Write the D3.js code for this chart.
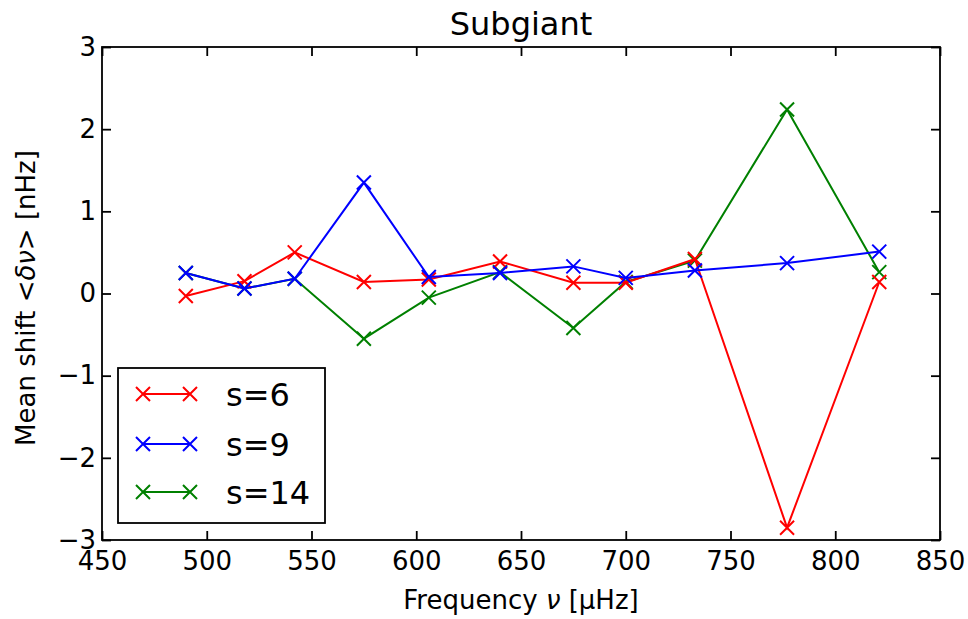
<!DOCTYPE html>
<html>
<head>
<meta charset="utf-8">
<script src="https://cdn.jsdelivr.net/npm/d3@7"></script>
<style>
  body { margin: 0; background: white; }
  svg { display: block; font-family: "DejaVu Sans", sans-serif; }
</style>
</head>
<body>
<svg id="main-svg" width="968" height="619"></svg>
<script>
// data
const freq = [490, 518, 542, 575, 606, 640, 675, 700, 733, 777, 821];
const s6  = [-0.03, 0.15, 0.50, 0.14, 0.17, 0.39, 0.13, 0.13, 0.42, -2.85, 0.14];
const s9  = [0.25, 0.06, 0.18, 1.35, 0.20, 0.25, 0.33, 0.19, 0.28, 0.37, 0.51];
const s14 = [0.25, 0.06, 0.18, -0.55, -0.05, 0.26, -0.42, 0.14, 0.40, 2.24, 0.26];
const seriesNames = ["s=6", "s=9", "s=14"];
const seriesColors = ["#ff0000", "#0000ff", "#008000"];
const xTicks = [450, 500, 550, 600, 650, 700, 750, 800, 850];
const yTicks = [-3, -2, -1, 0, 1, 2, 3];

const svg = d3.select("#main-svg");
const plot = { left: 102, right: 940, top: 47, bottom: 540 };
const tickLen = 9;

var xScale = d3.scaleLinear().domain([450, 850]).range([plot.left, plot.right]);
var yScale = d3.scaleLinear().domain([-3, 3]).range([plot.bottom, plot.top]);

const fmt = d => (d < 0 ? "\u2212" + Math.abs(d) : String(d));

// bottom axis with labels
var gx = svg.append("g")
    .attr("transform", `translate(0,${plot.bottom})`)
    .call(d3.axisBottom(xScale).tickValues(xTicks).tickSize(-tickLen).tickPadding(12).tickFormat(d => d));
// top axis, ticks only
var gxt = svg.append("g")
    .attr("transform", `translate(0,${plot.top})`)
    .call(d3.axisTop(xScale).tickValues(xTicks).tickSize(-tickLen).tickFormat(""));
// left axis with labels
var gy = svg.append("g")
    .attr("transform", `translate(${plot.left},0)`)
    .call(d3.axisLeft(yScale).tickValues(yTicks).tickSize(-tickLen).tickPadding(6).tickFormat(fmt));
// right axis, ticks only
var gyr = svg.append("g")
    .attr("transform", `translate(${plot.right},0)`)
    .call(d3.axisRight(yScale).tickValues(yTicks).tickSize(-tickLen).tickFormat(""));

[gx, gxt, gy, gyr].forEach(g => {
    g.select(".domain").remove();
    g.selectAll(".tick line").attr("stroke", "#000").attr("stroke-width", 1.8);
    g.selectAll(".tick text")
        .attr("fill", "#000")
        .attr("font-size", "26px")
        .attr("font-family", "DejaVu Sans, sans-serif");
});

// series lines + x markers (draw order: s=14, s=6, s=9)
var series = [
    { name: seriesNames[0], values: s6, color: seriesColors[0] },
    { name: seriesNames[1], values: s9, color: seriesColors[1] },
    { name: seriesNames[2], values: s14, color: seriesColors[2] }
];
const mk = 7;
const xMark = `M${-mk},${-mk}L${mk},${mk}M${-mk},${mk}L${mk},${-mk}`;

var line = d3.line()
    .x(d => xScale(d[0]))
    .y(d => yScale(d[1]));

[series[2], series[0], series[1]].forEach(s => {
    var pts = freq.map((f, i) => [f, s.values[i]]);
    var g = svg.append("g");
    g.append("path")
        .datum(pts)
        .attr("fill", "none")
        .attr("stroke", s.color)
        .attr("stroke-width", 2)
        .attr("d", line);
    g.selectAll(".mark")
        .data(pts)
        .enter()
        .append("path")
        .attr("class", "mark")
        .attr("transform", d => `translate(${xScale(d[0])},${yScale(d[1])})`)
        .attr("d", xMark)
        .attr("fill", "none")
        .attr("stroke", s.color)
        .attr("stroke-width", 2);
});

// frame
svg.append("rect")
    .attr("x", plot.left)
    .attr("y", plot.top)
    .attr("width", plot.right - plot.left)
    .attr("height", plot.bottom - plot.top)
    .attr("fill", "none")
    .attr("stroke", "#000")
    .attr("stroke-width", 1.8);

// title
svg.append("text")
    .attr("x", (plot.left + plot.right) / 2)
    .attr("y", 35)
    .attr("text-anchor", "middle")
    .attr("font-size", "32px")
    .text("Subgiant");

// x label
var xl = svg.append("text")
    .attr("x", (plot.left + plot.right) / 2)
    .attr("y", 609)
    .attr("text-anchor", "middle")
    .attr("font-size", "26px");
xl.append("tspan").text("Frequency ");
xl.append("tspan").attr("font-style", "italic").text("\u03bd");
xl.append("tspan").text(" [\u03bcHz]");

// y label
var yl = svg.append("text")
    .attr("transform", "translate(35,298) rotate(-90)")
    .attr("text-anchor", "middle")
    .attr("font-size", "26px");
yl.append("tspan").text("Mean shift <");
yl.append("tspan").attr("font-style", "italic").text("\u03b4\u03bd");
yl.append("tspan").text("> [nHz]");

// legend
var legend = svg.append("g");
legend.append("rect")
    .attr("x", 118)
    .attr("y", 368)
    .attr("width", 207)
    .attr("height", 155)
    .attr("fill", "white")
    .attr("stroke", "#000")
    .attr("stroke-width", 1.8);

const rowY = [394, 444, 492];
series.forEach((s, i) => {
    var row = legend.append("g").attr("transform", `translate(0,${rowY[i]})`);
    row.append("line")
        .attr("x1", 143).attr("x2", 190)
        .attr("y1", 0).attr("y2", 0)
        .attr("stroke", s.color)
        .attr("stroke-width", 2);
    [143, 190].forEach(x => {
        row.append("path")
            .attr("transform", `translate(${x},0)`)
            .attr("d", xMark)
            .attr("fill", "none")
            .attr("stroke", s.color)
            .attr("stroke-width", 2);
    });
    row.append("text")
        .attr("x", 226)
        .attr("y", 0)
        .attr("dy", "0.36em")
        .attr("font-size", "32px")
        .text(s.name);
});
</script>
</body>
</html>
